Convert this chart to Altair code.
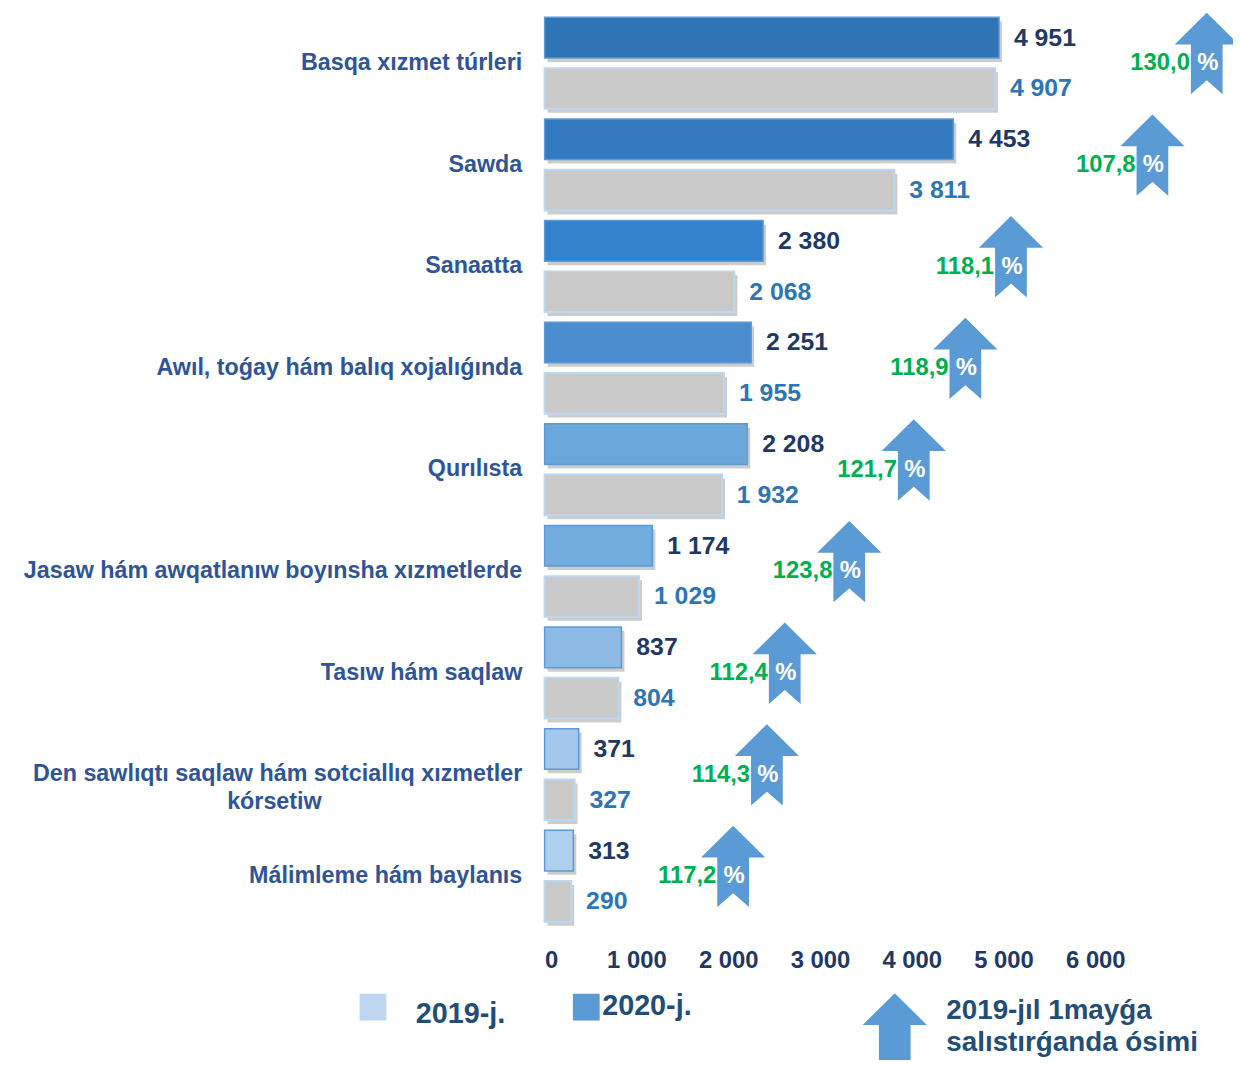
import altair as alt
import pandas as pd

# ---------------- data ----------------
categories = [
    "Basqa xızmet túrleri",
    "Sawda",
    "Sanaatta",
    "Awıl, toǵay hám balıq xojalıǵında",
    "Qurılısta",
    "Jasaw hám awqatlanıw boyınsha xızmetlerde",
    "Tasıw hám saqlaw",
    "Den sawlıqtı saqlaw hám sotciallıq xızmetler kórsetiw",
    "Málimleme hám baylanıs",
]
values_2020 = [4951, 4453, 2380, 2251, 2208, 1174, 837, 371, 313]
values_2019 = [4907, 3811, 2068, 1955, 1932, 1029, 804, 327, 290]
growth_pct = ["130,0", "107,8", "118,1", "118,9", "121,7", "123,8", "112,4", "114,3", "117,2"]
arrow_x = [7214, 6622, 5081, 4584, 4022, 3319, 2616, 2422, 2054]
x_ticks = [0, 1000, 2000, 3000, 4000, 5000, 6000]
legend_labels = ["2019-j.", "2020-j."]
legend_arrow_lines = ["2019-jıl 1mayǵa", "salıstırǵanda ósimi"]

# ---------------- styles ----------------
FONT = "Liberation Sans"
fills_2020 = ["#2F74B5", "#337AC0", "#3383CC", "#4A8ECF", "#6AA7DB",
              "#73ADDF", "#8DBAE4", "#A4C8EB", "#AFCFEE"]
ARROW = "#5B9BD5"
ARROW_PATH = ("M0,-1 L0.79,-0.22 L0.39,-0.22 L0.39,1 L0,0.66 "
              "L-0.39,1 L-0.39,-0.22 L-0.79,-0.22 Z")
NBSP = "\u00a0"
ZWSP = "\u200b"
wrap = {
    "Den sawlıqtı saqlaw hám sotciallıq xızmetler kórsetiw":
        "Den sawlıqtı saqlaw hám sotciallıq xızmetler\nkórsetiw" + NBSP * 31 + ZWSP,
}

def fmt(v):
    return f"{v:,}".replace(",", " ")

rows = []
cat_rows = []
for i, c in enumerate(categories):
    disp = wrap.get(c, c)
    k20 = f"{disp}|2020"
    k19 = f"{disp}|2019"
    rows.append({"key": k20, "cat": c, "year": "2020", "v": values_2020[i], "txt": fmt(values_2020[i])})
    rows.append({"key": k19, "cat": c, "year": "2019", "v": values_2019[i], "txt": fmt(values_2019[i])})
    cat_rows.append({"key": k20, "cat": c, "ax": arrow_x[i], "pct": growth_pct[i], "sign": "%"})
df = pd.DataFrame(rows)
dfc = pd.DataFrame(cat_rows)
row_order = list(df["key"])

W, H = 694, 922

y_axis = alt.Axis(
    title=None, domain=False, ticks=False, grid=False,
    labelExpr="split(datum.value, '|')[1] == '2020' ? split(split(datum.value, '|')[0], '\\n') : ''",
    labelFont=FONT, labelFontSize=23.5, labelFontWeight="bold", labelColor="#2F5597",
    labelPadding=23, labelOffset=H / 36, labelLimit=700, labelLineHeight=28,
    labelAlign="right",
)
y_scale = alt.Scale(domain=row_order, paddingInner=0.2, paddingOuter=0.1)

x_axis = alt.Axis(
    title=None, domain=False, ticks=False, grid=False, values=x_ticks,
    labelExpr="replace(format(datum.value, ','), ',', ' ')",
    labelFont=FONT, labelFontSize=24, labelFontWeight="bold", labelColor="#1F3864",
    labelPadding=22,
)
x_scale = alt.Scale(domain=[0, 7500], nice=False, zero=True)

def Y():
    return alt.Y("key:N", sort=row_order, scale=y_scale, axis=y_axis)

def X(f):
    return alt.X(f"{f}:Q", scale=x_scale, axis=x_axis)

base = alt.Chart(df)

shadow = base.mark_bar(color="#000000", opacity=0.2, xOffset=3, yOffset=4).encode(
    x=X("v"), y=Y())

bars20 = base.transform_filter("datum.year == '2020'").mark_bar(
    stroke="#5B9BD5", strokeWidth=1.5).encode(
    x=X("v"), y=Y(),
    color=alt.Color("cat:N", scale=alt.Scale(domain=categories, range=fills_2020), legend=None))

bars19 = base.transform_filter("datum.year == '2019'").mark_bar(
    color="#C9C9C9", stroke="#BDD7EE", strokeWidth=2).encode(
    x=X("v"), y=Y())

txt20 = base.transform_filter("datum.year == '2020'").mark_text(
    align="left", baseline="middle", dx=15, font=FONT, fontSize=25,
    fontWeight="bold", color="#1F3864").encode(x=X("v"), y=Y(), text="txt:N")

txt19 = base.transform_filter("datum.year == '2019'").mark_text(
    align="left", baseline="middle", dx=15, font=FONT, fontSize=25,
    fontWeight="bold", color="#2E75B6").encode(x=X("v"), y=Y(), text="txt:N")

cbase = alt.Chart(dfc)
arrows = cbase.mark_point(shape=ARROW_PATH, filled=True, size=82 * 82, color=ARROW,
                          opacity=1, strokeWidth=0, yOffset=16).encode(x=X("ax"), y=Y())
pct = cbase.mark_text(align="right", baseline="middle", dx=-17, yOffset=26, font=FONT,
                      fontSize=24, fontWeight="bold", color="#00B050").encode(
    x=X("ax"), y=Y(), text="pct:N")
sign = cbase.mark_text(align="center", baseline="middle", dx=1, yOffset=26, font=FONT,
                       fontSize=24, fontWeight="bold", color="#FFFFFF").encode(
    x=X("ax"), y=Y(), text="sign:N")

# ---------------- custom legend ----------------
one = pd.DataFrame({"t": [0]})
lg_sw19 = alt.Chart(one).mark_point(shape="square", filled=True, size=27 * 27,
                                    color="#BFD6F0", opacity=1).encode(
    x=alt.value(-173), y=alt.value(1003))
lg_sw20 = alt.Chart(one).mark_point(shape="square", filled=True, size=27 * 27,
                                    color="#5B9BD5", opacity=1).encode(
    x=alt.value(42), y=alt.value(1003))
lg_t19 = alt.Chart(pd.DataFrame({"t": [legend_labels[0]]})).mark_text(
    align="left", baseline="middle", font=FONT, fontSize=29, fontWeight="bold",
    color="#1F4E79").encode(x=alt.value(-130), y=alt.value(1010), text="t:N")
lg_t20 = alt.Chart(pd.DataFrame({"t": [legend_labels[1]]})).mark_text(
    align="left", baseline="middle", font=FONT, fontSize=29, fontWeight="bold",
    color="#1F4E79").encode(x=alt.value(58), y=alt.value(1002), text="t:N")
lg_arrow = alt.Chart(one).mark_point(shape=ARROW_PATH, filled=True, size=82 * 82,
                                     color=ARROW, opacity=1, strokeWidth=0).encode(
    x=alt.value(353), y=alt.value(1030))
lg_l1 = alt.Chart(pd.DataFrame({"t": [legend_arrow_lines[0]]})).mark_text(
    align="left", baseline="middle", font=FONT, fontSize=28, fontWeight="bold",
    color="#1F4E79").encode(x=alt.value(405), y=alt.value(1007), text="t:N")
lg_l2 = alt.Chart(pd.DataFrame({"t": [legend_arrow_lines[1]]})).mark_text(
    align="left", baseline="middle", font=FONT, fontSize=28, fontWeight="bold",
    color="#1F4E79").encode(x=alt.value(405), y=alt.value(1039), text="t:N")

chart = alt.layer(
    shadow, bars20, bars19, txt20, txt19, arrows, pct, sign,
    lg_sw19, lg_sw20, lg_t19, lg_t20, lg_arrow, lg_l1, lg_l2,
).properties(
    width=W, height=H,
    padding={"left": 541, "top": 0, "right": 0, "bottom": 130},
    autosize=alt.AutoSizeParams(type="none"),
    background="#FFFFFF",
).configure_view(stroke=None)

chart.save("out.html", embed_options={"renderer": "svg", "actions": False})
